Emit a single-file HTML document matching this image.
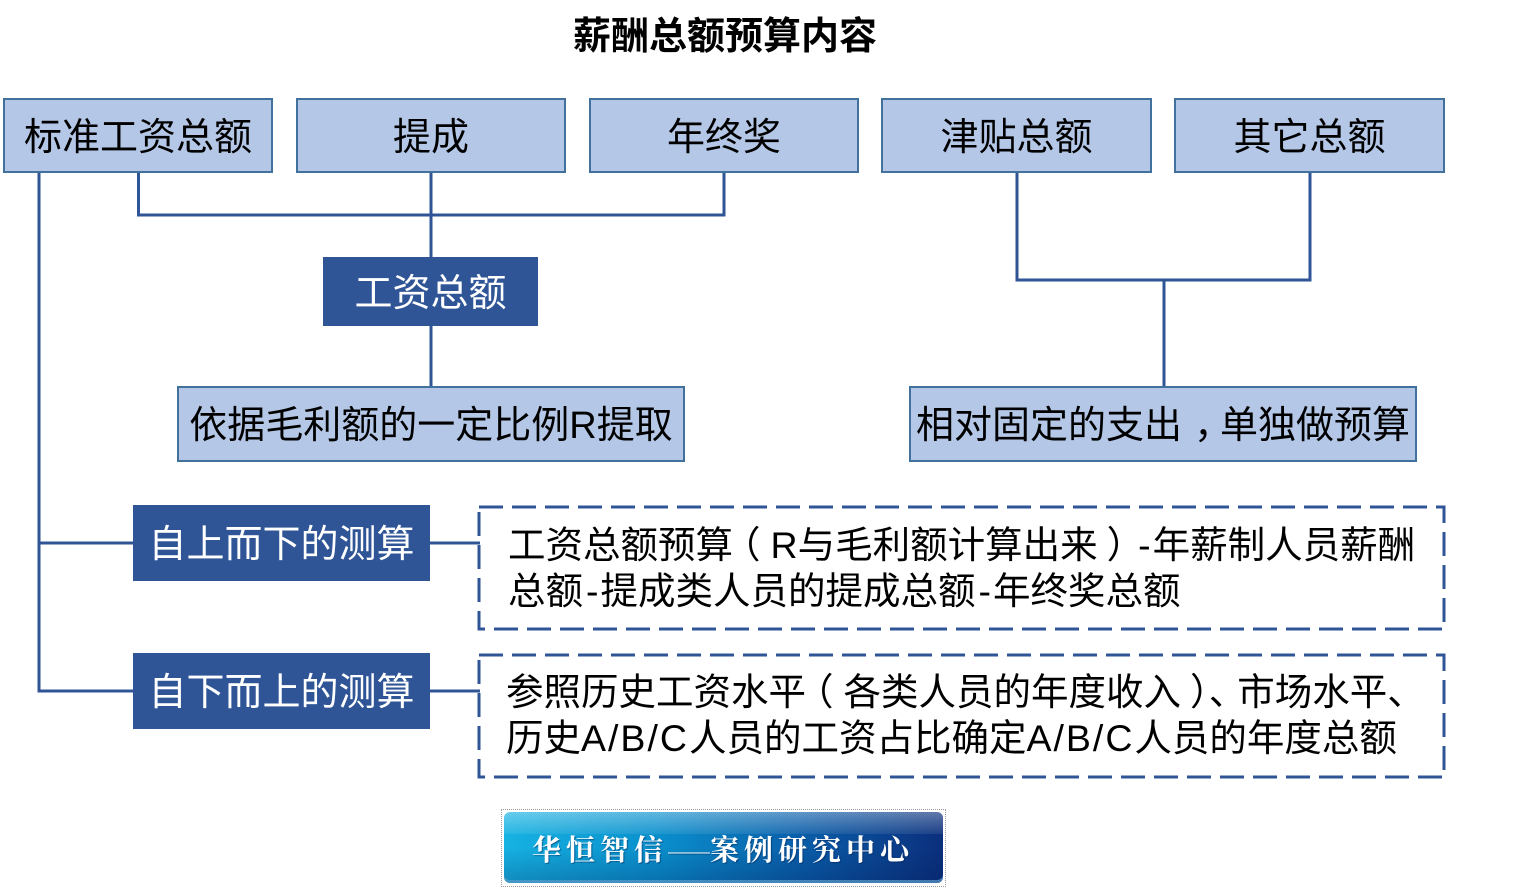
<!DOCTYPE html>
<html>
<head>
<meta charset="utf-8">
<style>
  html,body{margin:0;padding:0;background:#fff;}
  body{width:1529px;height:888px;position:relative;overflow:hidden;
       font-family:"Liberation Sans","Noto Sans CJK SC",sans-serif;}
  .abs{position:absolute;box-sizing:border-box;}
  .lb{background:#b4c7e7;border:2px solid #41719c;color:#000;
      display:flex;align-items:center;justify-content:center;padding-top:4px;
      font-size:38px;white-space:nowrap;line-height:1;}
  .db{background:#2f5597;color:#fff;display:flex;align-items:center;justify-content:center;padding-top:4px;
      font-size:38px;white-space:nowrap;line-height:1;}
  .txt{font-size:37.5px;line-height:46px;color:#000;white-space:nowrap;}
  .title{font-size:38px;font-weight:bold;color:#000;white-space:nowrap;line-height:1;}
  .op{position:relative;left:-10px;}
  .cp{position:relative;left:9px;}
  .cm{position:relative;left:12px;}
  .l{letter-spacing:2px;}
  .h{margin:0 2px 0 3px;}
</style>
</head>
<body>

<svg class="abs" style="left:0;top:0" width="1529" height="888" viewBox="0 0 1529 888">
  <g fill="none" stroke="#2f5597" stroke-width="3">
    <polyline points="138.5,172 138.5,215 724,215 724,172"/>
    <line x1="431" y1="172" x2="431" y2="258"/>
    <line x1="431" y1="325" x2="431" y2="388"/>
    <polyline points="1017,172 1017,280 1310,280 1310,172"/>
    <line x1="1164" y1="280" x2="1164" y2="388"/>
    <polyline points="39,172 39,691 133,691"/>
    <line x1="39" y1="543" x2="133" y2="543"/>
    <line x1="430" y1="543" x2="480" y2="543"/>
    <line x1="430" y1="691" x2="480" y2="691"/>
    <rect x="479" y="507" width="965" height="122" stroke-dasharray="24 9"/>
    <rect x="479" y="655" width="965" height="122" stroke-dasharray="24 9"/>
  </g>
</svg>

<div class="abs title" style="left:573px;top:18px;">薪酬总额预算内容</div>

<div class="abs lb" style="left:3px;top:98px;width:270px;height:75px;">标准工资总额</div>
<div class="abs lb" style="left:296px;top:98px;width:270px;height:75px;">提成</div>
<div class="abs lb" style="left:589px;top:98px;width:270px;height:75px;">年终奖</div>
<div class="abs lb" style="left:881px;top:98px;width:271px;height:75px;">津贴总额</div>
<div class="abs lb" style="left:1174px;top:98px;width:271px;height:75px;">其它总额</div>

<div class="abs db" style="left:323px;top:257px;width:215px;height:69px;">工资总额</div>
<div class="abs lb" style="left:177px;top:386px;width:508px;height:76px;">依据毛利额的一定比例R提取</div>
<div class="abs lb" style="left:909px;top:386px;width:508px;height:76px;">相对固定的支出<span class="cm">，</span>单独做预算</div>

<div class="abs db" style="left:133px;top:505px;width:297px;height:76px;">自上而下的测算</div>
<div class="abs db" style="left:133px;top:653px;width:297px;height:76px;">自下而上的测算</div>

<div class="abs txt" style="left:508px;top:522px;">工资总额预算<span class="op">（</span>R与毛利额计算出来<span class="cp">）</span><span class="h">-</span>年薪制人员薪酬<br>总额<span class="h">-</span>提成类人员的提成总额<span class="h">-</span>年终奖总额</div>
<div class="abs txt" style="left:506px;top:669px;">参照历史工资水平<span class="op">（</span>各类人员的年度收入<span class="cp">）</span><span class="cp">、</span>市场水平、<br>历史<span class="l">A/B/C</span>人员的工资占比确定<span class="l">A/B/C</span>人员的年度总额</div>

<div class="abs" style="left:501px;top:809px;width:445px;height:78px;border:1px dotted #9a9a9a;"></div>
<div class="abs" style="left:504px;top:812px;width:439px;height:71px;border-radius:6px;
     background:linear-gradient(to right,#16b2e2 0%,#0a8fcc 35%,#0a5aa6 70%,#0b2f7c 100%);
     box-shadow:inset 0 -3px 0 rgba(120,200,240,0.7);overflow:hidden;">
  <div style="position:absolute;left:0;top:0;width:100%;height:22px;
       background:linear-gradient(to bottom,rgba(255,255,255,0.35),rgba(255,255,255,0.08));"></div>
  <div style="position:absolute;left:0;top:0;width:100%;height:100%;
       background:linear-gradient(to bottom,rgba(0,0,0,0) 50%,rgba(0,20,80,0.25) 100%);"></div>
</div>
<div class="abs" style="left:532px;top:831px;height:40px;display:flex;align-items:center;color:#fff;
     font-family:'Liberation Serif','Noto Serif CJK SC',serif;font-size:29px;font-weight:700;
     letter-spacing:5px;white-space:nowrap;line-height:1;text-shadow:1px 1px 1px rgba(0,30,80,0.5);">
  <span>华恒智信</span><span style="display:inline-block;width:42px;overflow:hidden;font-size:21px;letter-spacing:0;font-weight:400;">——</span><span>案例研究中心</span>
</div>

</body>
</html>
